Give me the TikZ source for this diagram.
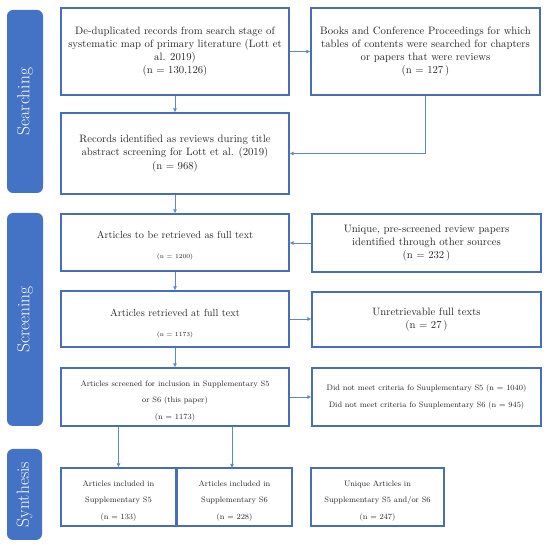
\documentclass[tikz,border=0pt]{standalone}
\usetikzlibrary{arrows.meta}
\definecolor{barblue}{RGB}{68,114,196}
\definecolor{edgeblue}{RGB}{72,110,185}
\definecolor{arrblue}{RGB}{90,135,210}
\newcommand{\lowr}[1]{\rule{0pt}{#1}}
\begin{document}
\begin{tikzpicture}[x=1pt,y=-1pt,
  box/.style={draw=edgeblue,line width=1.1pt,fill=white,inner sep=0pt,align=center,text=black!85},
  bar/.style={fill=barblue,rounded corners=6pt,inner sep=0pt,text=white,font=\fontsize{17.5}{19}\selectfont},
  conn/.style={draw=arrblue,line width=0.8pt,-{Latex[length=4pt,width=4pt]}},
  big/.style={font=\fontsize{10.7}{13.2}\selectfont},
  sml/.style={font=\fontsize{7.9}{16.5}\selectfont}]
\useasboundingbox (0,0) rectangle (550,548);
% side bars
\node[bar,minimum width=36pt,minimum height=183pt] (s1) at (25,101.5) {\rotatebox{90}{Searching}};
\node[bar,minimum width=36pt,minimum height=213pt] (s2) at (25,319.5) {\rotatebox{90}{Screening}};
\node[bar,minimum width=35pt,minimum height=91pt] (s3) at (24.5,494.5) {\rotatebox{90}{Synthesis}};
% boxes
\node[box,big,minimum width=228pt,minimum height=87pt] (A) at (175,51.5)
  {De-duplicated records from search stage of\\systematic map of primary literature (Lott et\\al. 2019)\\(n = 130,126)};
\node[box,big,minimum width=229pt,minimum height=87pt] (B) at (425.5,51.5)
  {Books and Conference Proceedings for which\\tables of contents were searched for chapters\\or papers that were reviews\\(n = 127\,)};
\node[box,big,minimum width=228pt,minimum height=81pt] (C) at (175,153.5)
  {Records identified as reviews during title\\abstract screening for Lott et al. (2019)\\(n = 968)};
\node[box,minimum width=228pt,minimum height=57pt,font=\fontsize{10.3}{13}\selectfont] (D) at (175,242.5)
  {\lowr{13.5pt}Articles to be retrieved as full text\\[7pt]{\fontsize{6.2}{8}\selectfont(n = 1200)}};
\node[box,big,minimum width=229pt,minimum height=58pt] (E) at (426.5,243)
  {Unique, pre-screened review papers\\identified through other sources\\(n = 232\,)};
\node[box,minimum width=228pt,minimum height=56pt,font=\fontsize{10.3}{13}\selectfont] (F) at (175,319)
  {\lowr{16pt}Articles retrieved at full text\\[7pt]{\fontsize{6.2}{8}\selectfont(n = 1173)}};
\node[box,big,minimum width=229pt,minimum height=55pt] (G) at (426.5,319.5)
  {Unretrievable full texts\\(n = 27\,)};
\node[box,sml,minimum width=228pt,minimum height=58pt] (H) at (175,397)
  {\lowr{13.5pt}Articles screened for inclusion in Supplementary S5\\ or S6 (this paper)\\(n = 1173)};
\node[box,sml,minimum width=229pt,minimum height=58pt] (I) at (426.5,397)
  {Did not meet criteria fo Suuplementary S5 (n = 1040)\\Did not meet criteria fo Suuplementary S6 (n = 945)};
\node[box,sml,minimum width=115pt,minimum height=58pt] (J) at (118.5,497)
  {\lowr{13.5pt}Articles included in\\Supplementary S5\\(n = 133)};
\node[box,sml,minimum width=115pt,minimum height=58pt] (K) at (234.5,497)
  {\lowr{13.5pt}Articles included in\\Supplementary S6\\(n = 228)};
\node[box,sml,minimum width=133pt,minimum height=58pt] (L) at (377.5,497)
  {\lowr{13.5pt}Unique Articles in\\Supplementary S5 and/or S6\\(n = 247)};
% connectors
\draw[conn] (A) -- (C);
\draw[conn] (A.east) -- (B.west);
\draw[conn] (B.south) |- (C.east);
\draw[conn] (C) -- (D);
\draw[conn] (E.west) -- (E.west -| D.east);
\draw[conn] (D) -- (F);
\draw[conn] (F.east) -- (F.east -| G.west);
\draw[conn] (F) -- (H);
\draw[conn] (H.east) -- (H.east -| I.west);
\draw[conn] (H.south -| J.north) -- (J.north);
\draw[conn] (H.south -| 232,0) -- (232,468);
\end{tikzpicture}
\end{document}
